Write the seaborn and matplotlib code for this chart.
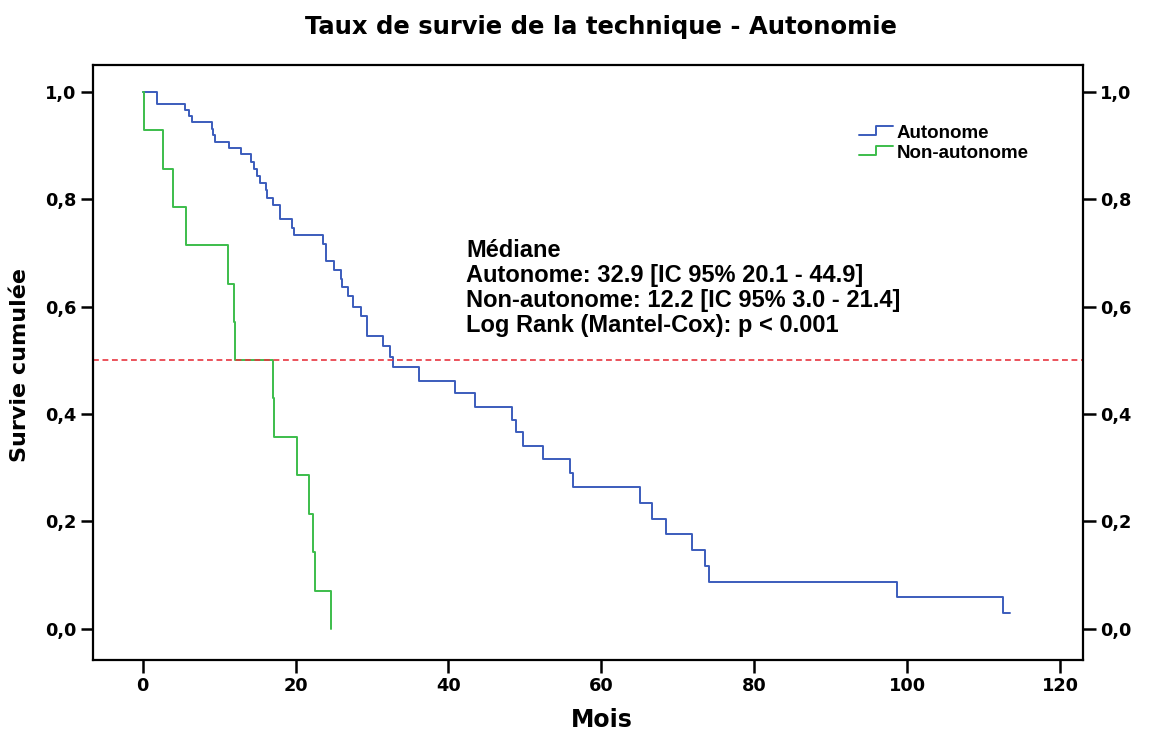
import matplotlib
matplotlib.use("Agg")
import matplotlib.pyplot as plt
import seaborn as sns
import pandas as pd
from matplotlib.lines import Line2D
from matplotlib.legend_handler import HandlerLine2D

# ---- data ----
auto_time = [0, 1.9, 5.5, 6.0, 6.4, 9.1, 9.25, 9.5, 11.25, 12.8, 14.2, 14.6, 14.9,
             15.3, 16.1, 16.2, 17.05, 17.9, 18.0, 19.5, 19.8, 23.6, 24.0, 25.0,
             26.0, 26.1, 26.8, 27.45, 28.6, 29.4, 31.4, 32.3, 32.8, 36.2, 40.8,
             43.5, 48.3, 48.8, 49.7, 52.3, 55.9, 56.3, 65.0, 66.6, 68.5, 71.9,
             73.5, 74.1, 98.7, 112.5, 113.4]
auto_surv = [1.0, 0.978, 0.966, 0.955, 0.943, 0.931, 0.920, 0.907, 0.896, 0.884,
             0.870, 0.857, 0.844, 0.831, 0.818, 0.803, 0.790, 0.777, 0.763, 0.747,
             0.733, 0.716, 0.685, 0.668, 0.651, 0.636, 0.619, 0.600, 0.583, 0.546,
             0.526, 0.507, 0.487, 0.462, 0.439, 0.414, 0.389, 0.366, 0.341, 0.317,
             0.290, 0.264, 0.234, 0.205, 0.177, 0.146, 0.117, 0.088, 0.059, 0.029,
             0.029]
nonauto_time = [0, 0.2, 2.7, 4.0, 5.6, 11.2, 11.95, 12.1, 17.0, 17.2, 20.2, 21.7,
                22.3, 22.6, 24.65]
nonauto_surv = [1.0, 0.929, 0.857, 0.786, 0.714, 0.643, 0.571, 0.500, 0.429,
                0.357, 0.286, 0.214, 0.143, 0.071, 0.0]
groups = ["Autonome", "Non-autonome"]
colors = ["#3b5cbc", "#3cbd4b"]
median_line = 0.5
x_ticks = [0, 20, 40, 60, 80, 100, 120]
y_ticks = [0.0, 0.2, 0.4, 0.6, 0.8, 1.0]
y_tick_labels = ["0,0", "0,2", "0,4", "0,6", "0,8", "1,0"]
title = "Taux de survie de la technique - Autonomie"
annot_lines = ["Médiane",
               "Autonome: 32.9 [IC 95% 20.1 - 44.9]",
               "Non-autonome: 12.2 [IC 95% 3.0 - 21.4]",
               "Log Rank (Mantel-Cox): p < 0.001"]

df = pd.concat([
    pd.DataFrame({"Mois": auto_time, "Survie": auto_surv, "Groupe": groups[0]}),
    pd.DataFrame({"Mois": nonauto_time, "Survie": nonauto_surv, "Groupe": groups[1]}),
], ignore_index=True)

sns.set_theme(style="white")
plt.rcParams["font.family"] = ["Liberation Sans", "DejaVu Sans"]
plt.rcParams["font.weight"] = "bold"
plt.rcParams["text.color"] = "black"
plt.rcParams["axes.labelcolor"] = "black"
plt.rcParams["xtick.color"] = "black"
plt.rcParams["ytick.color"] = "black"

WIDE = ["DejaVu Sans"]

fig = plt.figure(figsize=(11.61, 7.33), dpi=100)
ax = fig.add_axes([93 / 1161, 73 / 733, 990 / 1161, 595 / 733])

sns.lineplot(data=df, x="Mois", y="Survie", hue="Groupe", palette=colors,
             estimator=None, sort=False, drawstyle="steps-post", linewidth=1.4,
             legend=False, ax=ax)

ax.axhline(median_line, color="#e8353f", linestyle=(0, (3.5, 2.2)), linewidth=1.2)

ax.set_xlim(-6.5, 123.0)
ax.set_ylim(-0.058, 1.050)
ax.set_xticks(x_ticks)
ax.set_xticklabels([str(v) for v in x_ticks], fontsize=12.8, fontweight="bold",
                   family=WIDE)
ax.set_yticks(y_ticks)
ax.set_yticklabels(y_tick_labels, fontsize=12.8, fontweight="bold", family=WIDE)
ax.tick_params(axis="both", direction="out", length=9, width=1.8, color="black",
               labelcolor="black", pad=3, left=True, bottom=True)
ax.tick_params(axis="y", right=True, labelright=True)
for s in ax.spines.values():
    s.set_visible(True)
    s.set_color("black")
    s.set_linewidth(1.6)

ax.set_xlabel("Mois", fontsize=17, fontweight="bold", family=WIDE, va="center")
ax.xaxis.set_label_coords((602 - 93) / 990, -(720 - 660) / 595)
ax.set_ylabel("Survie cumulée", fontsize=16, fontweight="bold", family=WIDE,
              va="center")
ax.yaxis.set_label_coords(-(93 - 20) / 990, (660 - 365) / 595)

fig.text(601 / 1161, 1 - 27 / 733, title, ha="center", va="center",
         fontsize=17.5, fontweight="bold", family=WIDE)

ax.text(0.377, 0.708, "\n".join(annot_lines), transform=ax.transAxes,
        ha="left", va="top", fontsize=17, fontweight="bold", linespacing=1.115)


class StepHandler(HandlerLine2D):
    def create_artists(self, legend, orig_handle, xdescent, ydescent, width,
                       height, fontsize, trans):
        x0 = -xdescent
        y0 = -ydescent
        xs = [x0, x0 + width * 0.5, x0 + width * 0.5, x0 + width]
        ys = [y0 + height * 0.2, y0 + height * 0.2, y0 + height * 0.9, y0 + height * 0.9]
        line = Line2D(xs, ys, color=orig_handle.get_color(),
                      linewidth=orig_handle.get_linewidth())
        line.set_transform(trans)
        return [line]


handles = [Line2D([], [], color=c, linewidth=1.4) for c in colors]
leg = ax.legend(handles, groups, loc="upper left", bbox_to_anchor=(0.757, 0.928),
                frameon=False, handler_map={Line2D: StepHandler()},
                prop={"size": 13.5, "weight": "bold"}, handlelength=1.8,
                handletextpad=0.2, labelspacing=0.15)

fig.savefig("out.png", dpi=100)
